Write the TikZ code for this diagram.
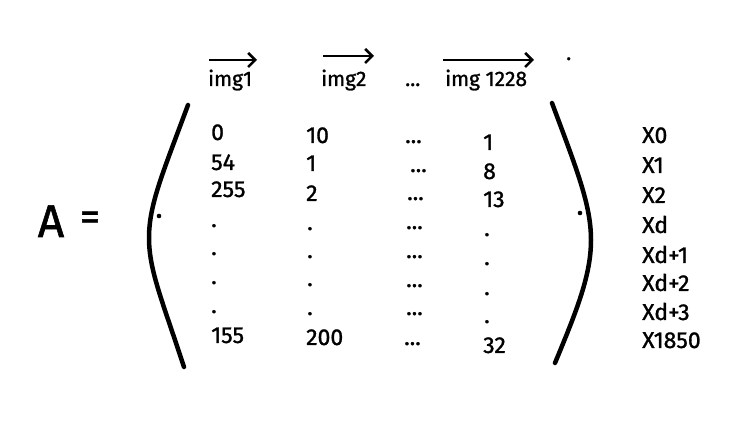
\documentclass[tikz,border=0pt]{standalone}
\usepackage{fontspec}
\setmainfont{Fira Sans}[Numbers=Lining,FakeBold=1.2,BoldFont={Fira Sans}]
\usetikzlibrary{arrows.meta}
\tikzset{
  cell/.style={anchor=base west,inner sep=0pt,font=\fontsize{23}{27}\selectfont\bfseries},
  hdr/.style={anchor=base west,inner sep=0pt,font=\fontsize{21}{25}\selectfont\bfseries},
  paren/.style={line width=4.5pt,line cap=round},
  vecarrow/.style={line width=2.6pt,-{Straight Barb[length=7pt,width=14pt,line width=2.6pt]}},
}
\begin{document}
\begin{tikzpicture}[x=1pt,y=-1pt]
\useasboundingbox (0,0) rectangle (740,438);
% A =
\node[anchor=base,inner sep=0pt,font=\fontsize{46}{50}\selectfont\bfseries] (A) at (51,237) {A};
\node[inner sep=0pt,font=\fontsize{40}{42}\selectfont\bfseries] (eq) at (90,221) {=};
% header
\node[hdr] (h1) at (208,86) {img1};
\node[hdr] (h2) at (321,86) {img2};
\node[hdr] (h3) at (405,86) {...};
\node[hdr] (h4) at (445,86) {img 1228};
\node[hdr] (hd) at (566,60) {.};
\coordinate (a1s) at (209,60); \coordinate (a1e) at (257,60);
\coordinate (a2s) at (323,56); \coordinate (a2e) at (374,56);
\coordinate (a3s) at (443,60); \coordinate (a3e) at (534,60);
\draw[vecarrow] (a1s) -- (a1e);
\draw[vecarrow] (a2s) -- (a2e);
\draw[vecarrow] (a3s) -- (a3e);
% parens
\draw[paren] (188,105) .. controls (162,175) and (149,205) .. (149,238) .. controls (149,270) and (162,300) .. (184,367);
\draw[paren] (552,103) .. controls (577,170) and (591,205) .. (591,240) .. controls (591,275) and (577,310) .. (555,363);
\fill (159,216) circle (2.3);
\fill (580,213) circle (2.3);
% column 1
\node[cell] (c11) at (211,140) {0};
\node[cell] (c12) at (211,170) {54};
\node[cell] (c13) at (211,197) {255};
\node[cell] (c14) at (211,227) {.};
\node[cell] (c15) at (211,255) {.};
\node[cell] (c16) at (211,284) {.};
\node[cell] (c17) at (211,313) {.};
\node[cell] (c18) at (211,343) {155};
% column 2
\node[cell] (c21) at (306,143) {10};
\node[cell] (c22) at (306,171) {1};
\node[cell] (c23) at (306,201) {2};
\node[cell] (c24) at (307,230) {.};
\node[cell] (c25) at (307,258) {.};
\node[cell] (c26) at (307,286) {.};
\node[cell] (c27) at (307,315) {.};
\node[cell] (c28) at (306,345) {200};
% column 3
\node[cell] (c31) at (405,143) {...};
\node[cell] (c32) at (410,172) {...};
\node[cell] (c33) at (407,200) {...};
\node[cell] (c34) at (406,229) {...};
\node[cell] (c35) at (406,258) {...};
\node[cell] (c36) at (406,287) {...};
\node[cell] (c37) at (406,315) {...};
\node[cell] (c38) at (404,345) {...};
% column 4
\node[cell] (c41) at (483,150) {1};
\node[cell] (c42) at (483,179) {8};
\node[cell] (c43) at (483,207) {13};
\node[cell] (c44) at (484,236) {.};
\node[cell] (c45) at (484,265) {.};
\node[cell] (c46) at (484,295) {.};
\node[cell] (c47) at (484,323) {.};
\node[cell] (c48) at (483,353) {32};
% X labels
\node[cell] (x1) at (642,143) {X0};
\node[cell] (x2) at (642,173) {X1};
\node[cell] (x3) at (642,203) {X2};
\node[cell] (x4) at (642,233) {Xd};
\node[cell] (x5) at (642,263) {Xd+1};
\node[cell] (x6) at (642,291) {Xd+2};
\node[cell] (x7) at (642,320) {Xd+3};
\node[cell] (x8) at (642,348) {X1850};
\end{tikzpicture}
\end{document}
